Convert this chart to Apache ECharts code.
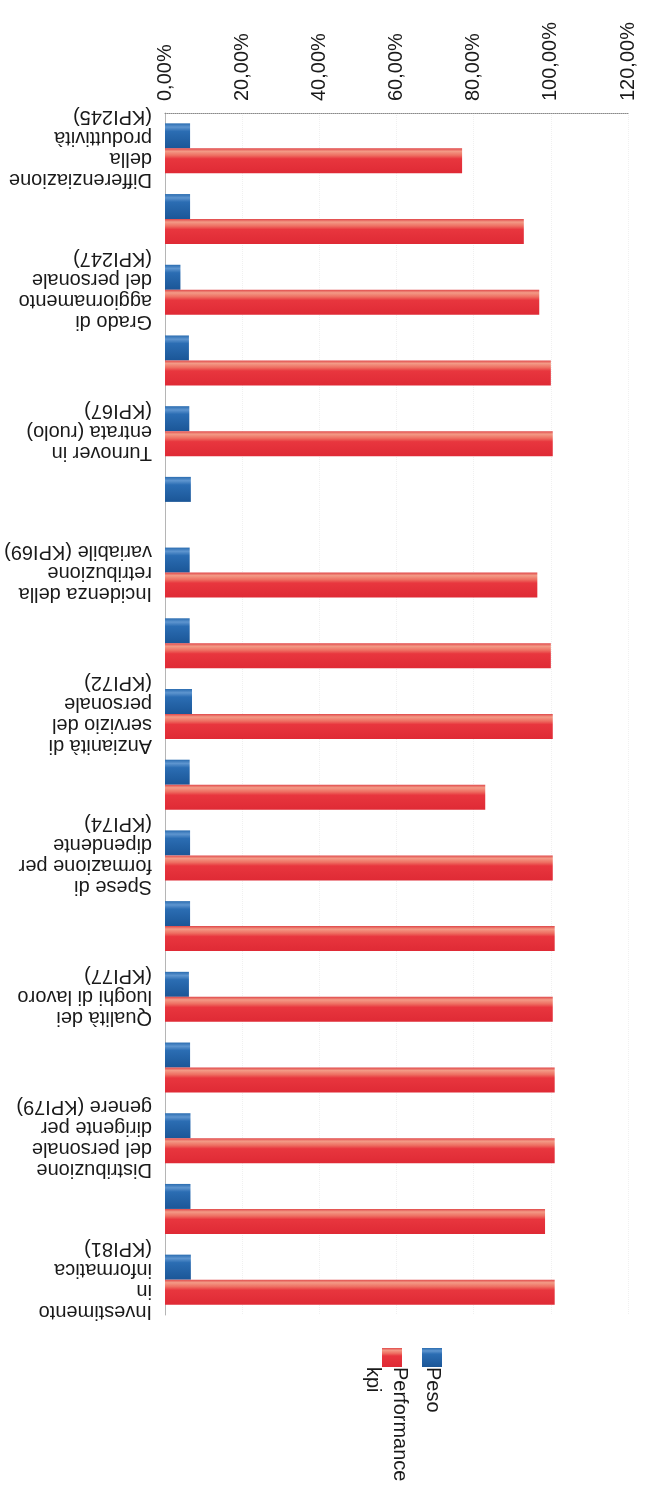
<!DOCTYPE html>
<html>
<head>
<meta charset="utf-8">
<script src="https://cdn.jsdelivr.net/npm/echarts@6/dist/echarts.min.js"></script>
<style>
html,body{margin:0;padding:0;background:#fff;}
#chart{width:645px;height:1493px;}
</style>
</head>
<body>
<div id="chart"></div>
<script>
// Categories (top to bottom); only every other label is shown in the reference
const categories = [
  "Differenziazione\ndella\nproduttività\n(KPI245)",
  "",
  "Grado di\naggiornamento\ndel personale\n(KPI247)",
  "",
  "Turnover in\nentrata (ruolo)\n(KPI67)",
  "",
  "Incidenza della\nretribuzione\nvariabile (KPI69)",
  "",
  "Anzianità di\nservizio del\npersonale\n(KPI72)",
  "",
  "Spese di\nformazione per\ndipendente\n(KPI74)",
  "",
  "Qualità dei\nluoghi di lavoro\n(KPI77)",
  "",
  "Distribuzione\ndel personale\ndirigente per\ngenere (KPI79)",
  "",
  "Investimento\nin\ninformatica\n(KPI81)"
];
// Values in percent
const peso = [6.5, 6.5, 4.0, 6.2, 6.3, 6.7, 6.4, 6.4, 7.0, 6.4, 6.5, 6.5, 6.2, 6.5, 6.6, 6.6, 6.7];
const performance = [77, 93, 97, 100, 100.5, 0, 96.5, 100, 100.5, 83, 100.5, 101, 100.5, 101, 101, 98.5, 101];
const tickMax = 120;
const tickStep = 20;
const seriesNames = ["Peso", "Performance kpi"];

const chart = echarts.init(document.getElementById('chart'), null, {renderer: 'canvas'});

const redGrad = new echarts.graphic.LinearGradient(0, 0, 0, 1, [
  {offset: 0, color: '#e0484a'},
  {offset: 0.12, color: '#f39a86'},
  {offset: 0.28, color: '#ee6f62'},
  {offset: 0.42, color: '#e8363e'},
  {offset: 1, color: '#df2a35'}
]);
const blueGrad = new echarts.graphic.LinearGradient(0, 0, 0, 1, [
  {offset: 0, color: '#2a6cb0'},
  {offset: 0.15, color: '#5e95cf'},
  {offset: 0.32, color: '#2b6db3'},
  {offset: 1, color: '#1b5697'}
]);

const option = {
  backgroundColor: '#ffffff',
  animation: false,
  textStyle: {fontFamily: 'Liberation Sans, Arial, sans-serif'},
  grid: {left: 165, right: 17, top: 113, bottom: 178, containLabel: false},
  xAxis: {
    type: 'value',
    position: 'top',
    min: 0,
    max: tickMax,
    interval: tickStep,
    axisLine: {show: true, lineStyle: {color: '#8a8a8a', type: 'dotted', width: 1}},
    axisTick: {show: false},
    splitLine: {show: true, lineStyle: {color: '#f0f0f0', type: 'dotted'}},
    axisLabel: {
      rotate: -90,
      fontSize: 20,
      color: '#1a1a1a',
      margin: 12,
      formatter: v => v.toFixed(2).replace('.', ',') + '%'
    }
  },
  yAxis: {
    type: 'category',
    inverse: true,
    data: categories,
    axisLine: {show: true, lineStyle: {color: '#b5b5b5', width: 1}},
    axisTick: {show: false},
    axisLabel: {
      interval: 1,
      rotate: 180,
      fontSize: 20,
      lineHeight: 21,
      color: '#1a1a1a',
      margin: 13
    }
  },
  legend: {
    data: [seriesNames[1], seriesNames[0]],
    left: 377,
    top: 1343,
    orient: 'horizontal',
    itemWidth: 20,
    itemHeight: 19,
    itemGap: 20,
    icon: 'rect',
    formatter: () => '',
    textStyle: {fontSize: 20}
  },
  graphic: [
    {
      type: 'text', x: 432.5, y: 1367, rotation: -Math.PI / 2,
      style: {text: seriesNames[0], fontSize: 20, fill: '#1a1a1a', align: 'left', verticalAlign: 'middle', fontFamily: 'Liberation Sans, Arial, sans-serif'}
    },
    {
      type: 'text', x: 386, y: 1367, rotation: -Math.PI / 2,
      style: {text: 'Performance\nkpi', fontSize: 20, lineHeight: 27, fill: '#1a1a1a', align: 'left', verticalAlign: 'middle', fontFamily: 'Liberation Sans, Arial, sans-serif'}
    }
  ],
  series: [
    {
      name: seriesNames[0],
      type: 'bar',
      data: peso,
      barWidth: 25,
      barGap: '0%',
      itemStyle: {color: blueGrad}
    },
    {
      name: seriesNames[1],
      type: 'bar',
      data: performance,
      barWidth: 25,
      barGap: '0%',
      itemStyle: {color: redGrad}
    }
  ]
};
chart.setOption(option);
</script>
</body>
</html>
